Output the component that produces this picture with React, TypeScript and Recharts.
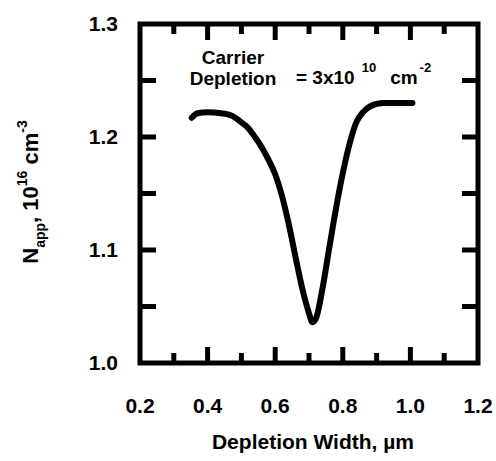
import React from 'react'
import { LineChart, Line, XAxis, YAxis, ReferenceArea } from 'recharts'

// depletion width (um) vs apparent doping (1e16 cm^-3)
const widthUm = [
  0.353, 0.37, 0.4, 0.44, 0.47, 0.5, 0.52, 0.54, 0.56, 0.58, 0.6, 0.62, 0.64, 0.66,
  0.68, 0.7, 0.71, 0.72, 0.74, 0.76, 0.78, 0.8, 0.82, 0.84, 0.86, 0.88, 0.92, 0.96, 1.006,
]
const nApp = [
  1.217, 1.221, 1.222, 1.221, 1.219, 1.213, 1.208, 1.2, 1.191, 1.18, 1.167, 1.148, 1.123, 1.094,
  1.066, 1.044, 1.036, 1.039, 1.066, 1.102, 1.137, 1.168, 1.194, 1.213, 1.222, 1.227, 1.23, 1.23, 1.23,
]

const xLabels = [0.2, 0.4, 0.6, 0.8, 1.0, 1.2]
const xMajor = [0.4, 0.6, 0.8, 1.0]
const xMinor = [0.3, 0.5, 0.7, 0.9, 1.1]
const yLabels = [1.0, 1.1, 1.2, 1.3]
const yTicks = [1.05, 1.1, 1.15, 1.2, 1.25]

const X_DOMAIN: [number, number] = [0.2, 1.2]
const Y_DOMAIN: [number, number] = [1.0, 1.3]

const FONT = '"Liberation Sans", Arial, sans-serif'

const data = widthUm.map((x, i) => ({ x, y: nApp[i] }))

const tickText = { fontSize: 21, fontWeight: 700, fill: '#000', fontFamily: FONT }

// draws an inward tick mark at the axis position instead of a label
const mark = (side: 'bottom' | 'top' | 'left' | 'right', len: number) => (props: any) => {
  const { x, y } = props
  const dx = side === 'left' ? len : side === 'right' ? -len : 0
  const dy = side === 'bottom' ? -len : side === 'top' ? len : 0
  return <line x1={x} y1={y} x2={x + dx} y2={y + dy} stroke="#000" strokeWidth={5} />
}

const markAxis = { type: 'number' as const, interval: 0, mirror: true, axisLine: false, tickLine: false, tickSize: 0, tickMargin: 0, allowDataOverflow: true }

export default function App() {
  return (
    <div style={{ position: 'absolute', left: 0, top: 0, background: '#fff' }}>
      <LineChart width={496} height={461} data={data} margin={{ top: 24, right: 18, bottom: 38, left: 40 }}>
        <XAxis
          dataKey="x"
          type="number"
          domain={X_DOMAIN}
          ticks={xLabels}
          interval={0}
          allowDataOverflow
          axisLine={false}
          tickLine={false}
          tickSize={0}
          tickMargin={35}
          height={60}
          tick={tickText}
          tickFormatter={(v: number) => v.toFixed(1)}
        />
        <YAxis
          type="number"
          domain={Y_DOMAIN}
          ticks={yLabels}
          interval={0}
          allowDataOverflow
          axisLine={false}
          tickLine={false}
          tickSize={0}
          tickMargin={22}
          width={100}
          tick={tickText}
          tickFormatter={(v: number) => v.toFixed(1)}
        />

        {/* inward tick marks */}
        <XAxis xAxisId="bMaj" dataKey="x" domain={X_DOMAIN} ticks={xMajor} height={1} tick={mark('bottom', 16)} {...markAxis} />
        <XAxis xAxisId="bMin" dataKey="x" domain={X_DOMAIN} ticks={xMinor} height={1} tick={mark('bottom', 9)} {...markAxis} />
        <XAxis xAxisId="tMaj" dataKey="x" orientation="top" domain={X_DOMAIN} ticks={xMajor} height={1} tick={mark('top', 16)} {...markAxis} />
        <XAxis xAxisId="tMin" dataKey="x" orientation="top" domain={X_DOMAIN} ticks={xMinor} height={1} tick={mark('top', 9)} {...markAxis} />
        <YAxis yAxisId="l" domain={Y_DOMAIN} ticks={yTicks} width={1} tick={mark('left', 16)} {...markAxis} />
        <YAxis yAxisId="r" orientation="right" domain={Y_DOMAIN} ticks={yTicks} width={1} tick={mark('right', 16)} {...markAxis} />

        {/* invisible series binding the tick axes */}
        <Line xAxisId="bMaj" yAxisId="l" dataKey="y" stroke="none" dot={false} isAnimationActive={false} />
        <Line xAxisId="bMin" yAxisId="r" dataKey="y" stroke="none" dot={false} isAnimationActive={false} />
        <Line xAxisId="tMaj" yAxisId="l" dataKey="y" stroke="none" dot={false} isAnimationActive={false} />
        <Line xAxisId="tMin" yAxisId="r" dataKey="y" stroke="none" dot={false} isAnimationActive={false} />

        <Line
          type="monotone"
          dataKey="y"
          stroke="#000"
          strokeWidth={6}
          strokeLinecap="round"
          dot={false}
          isAnimationActive={false}
        />
        <ReferenceArea x1={0.2} x2={1.2} y1={1.0} y2={1.3} fill="none" stroke="#000" strokeWidth={5} ifOverflow="visible" />

        {/* annotation */}
        <text fontFamily={FONT} fontWeight={700} fill="#000" fontSize={19}>
          <tspan x={233} y={64} textAnchor="middle">Carrier</tspan>
          <tspan x={233} y={85} textAnchor="middle">Depletion</tspan>
        </text>
        <text fontFamily={FONT} fontWeight={700} fill="#000" fontSize={19} x={296} y={84}>
          = 3x10
          <tspan dx={7} dy={-12} fontSize={13}>10</tspan>
          <tspan dx={14} dy={12}>cm</tspan>
          <tspan dx={2} dy={-12} fontSize={13}>-2</tspan>
        </text>

        {/* axis titles */}
        <text x={313} y={449} textAnchor="middle" fontFamily={FONT} fontWeight={700} fontSize={21} fill="#000">
          Depletion Width, µm
        </text>
        <text
          transform="translate(38,192) rotate(-90)"
          textAnchor="middle"
          fontFamily={FONT}
          fontWeight={700}
          fontSize={22}
          fill="#000"
        >
          N<tspan fontSize={14} dy={7}>app</tspan>
          <tspan dy={-7}>, 10</tspan>
          <tspan fontSize={14} dy={-11}>16</tspan>
          <tspan dy={11}> cm</tspan>
          <tspan fontSize={14} dy={-11}>-3</tspan>
        </text>
      </LineChart>
    </div>
  )
}
